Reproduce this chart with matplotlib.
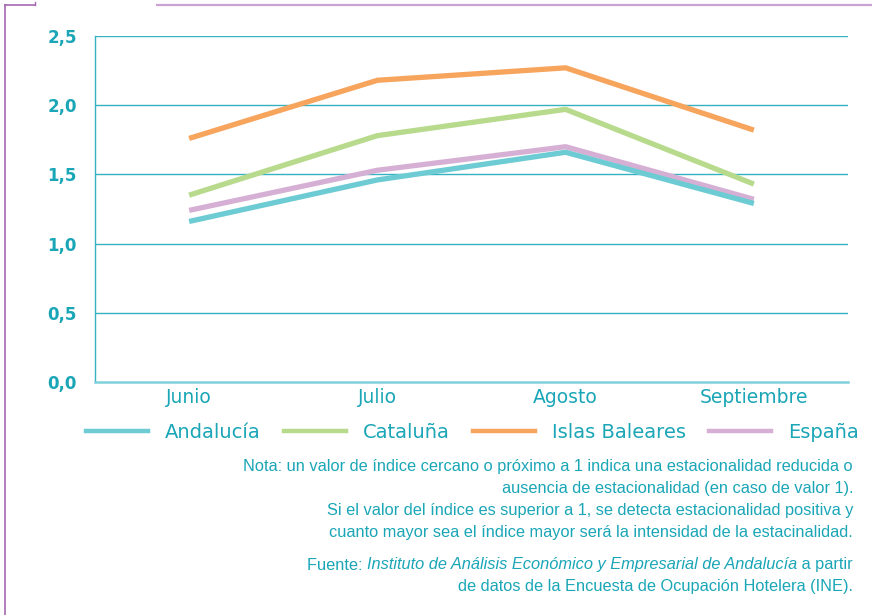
import matplotlib
matplotlib.use('Agg')
import matplotlib.pyplot as plt
from matplotlib.lines import Line2D

# data
months = ['Junio', 'Julio', 'Agosto', 'Septiembre']
andalucia = [1.16, 1.46, 1.66, 1.29]
cataluna = [1.35, 1.78, 1.97, 1.43]
baleares = [1.76, 2.18, 2.27, 1.82]
espana = [1.24, 1.53, 1.70, 1.32]
series_names = ['Andalucía', 'Cataluña', 'Islas Baleares', 'España']
y_ticks = [0.0, 0.5, 1.0, 1.5, 2.0, 2.5]
y_tick_labels = ['0,0', '0,5', '1,0', '1,5', '2,0', '2,5']

teal_txt = '#1aa6b7'
grid_col = '#35b2c0'
colors = ['#6ccbd3', '#b7da8c', '#f7a45c', '#d6b0d4']

W, H = 872, 615
fig = plt.figure(figsize=(W / 100, H / 100), dpi=100)
ax = fig.add_axes([95 / W, 1 - 382 / H, (848 - 95) / W, (382 - 36) / H])

x = list(range(len(months)))
# draw in this order so the teal line sits on top like the reference
for vals, col in zip([baleares, cataluna, espana, andalucia],
                     [colors[2], colors[1], colors[3], colors[0]]):
    ax.plot(x, vals, color=col, linewidth=3.8, solid_capstyle='butt', zorder=3)

ax.set_xlim(-0.5, len(months) - 0.5)
ax.set_ylim(0, 2.5)
ax.set_yticks(y_ticks)
ax.set_yticklabels(y_tick_labels, fontsize=12, fontweight='bold',
                   color=teal_txt, family='DejaVu Sans')
ax.set_xticks(x)
ax.set_xticklabels(months, fontsize=13.5, color=teal_txt, family='DejaVu Sans')
ax.tick_params(axis='both', length=0)
ax.tick_params(axis='y', pad=13)
ax.tick_params(axis='x', pad=4.5)

for v in y_ticks[1:]:
    ax.axhline(v, color=grid_col, linewidth=1.0, zorder=1)
for s in ['top', 'right']:
    ax.spines[s].set_visible(False)
ax.spines['left'].set_color(grid_col)
ax.spines['left'].set_linewidth(1.0)
ax.spines['bottom'].set_color('#7fd0da')
ax.spines['bottom'].set_linewidth(1.8)

# legend
leg_handles = [Line2D([0], [0], color=c, linewidth=3.2) for c in colors]
leg = fig.legend(leg_handles, series_names, loc='center left',
                 bbox_to_anchor=(86 / W, 1 - 432 / H), ncol=4, frameon=False,
                 prop={'family': 'DejaVu Sans', 'size': 14},
                 handlelength=3.2, handletextpad=0.85, columnspacing=1.2,
                 borderpad=0, borderaxespad=0)
for t in leg.get_texts():
    t.set_color(teal_txt)

# note text, right aligned
note_size = 11.8
note_lines = [
    'Nota: un valor de índice cercano o próximo a 1 indica una estacionalidad reducida o',
    'ausencia de estacionalidad (en caso de valor 1).',
    'Si el valor del índice es superior a 1, se detecta estacionalidad positiva y',
    'cuanto mayor sea el índice mayor será la intensidad de la estacinalidad.',
]
note_y = [467, 489, 511, 532]
right_x = 853 / W
for line, yy in zip(note_lines, note_y):
    fig.text(right_x, 1 - yy / H, line, ha='right', va='center', fontsize=note_size,
             family='Liberation Sans', color=teal_txt)

# source line with italic institute name
renderer = fig.canvas.get_renderer()
yy = 1 - 565 / H
t3 = fig.text(right_x, yy, ' a partir', ha='right', va='center', fontsize=note_size,
              family='Liberation Sans', color=teal_txt)
w3 = t3.get_window_extent(renderer).width / W
t2 = fig.text(right_x - w3, yy, 'Instituto de Análisis Económico y Empresarial de Andalucía',
              ha='right', va='center', fontsize=note_size, family='Liberation Sans',
              style='italic', color=teal_txt)
w2 = t2.get_window_extent(renderer).width / W
fig.text(right_x - w3 - w2, yy, 'Fuente: ', ha='right', va='center', fontsize=note_size,
         family='Liberation Sans', color=teal_txt)
fig.text(right_x, 1 - 587 / H, 'de datos de la Encuesta de Ocupación Hotelera (INE).',
         ha='right', va='center', fontsize=note_size, family='Liberation Sans', color=teal_txt)

# decorative page frame
fig.add_artist(Line2D([5 / W, 5 / W], [1 - 5 / H, 0], color='#a468b0', linewidth=1.2))
fig.add_artist(Line2D([5 / W, 35 / W], [1 - 5 / H, 1 - 5 / H], color='#a468b0', linewidth=1.2))
fig.add_artist(Line2D([157 / W, 1], [1 - 5 / H, 1 - 5 / H], color='#c9a3d3', linewidth=1.6))
fig.add_artist(Line2D([35 / W, 35 / W], [1 - 2 / H, 1 - 5 / H], color='#a468b0', linewidth=1.0))

fig.savefig('out.png', dpi=100)
